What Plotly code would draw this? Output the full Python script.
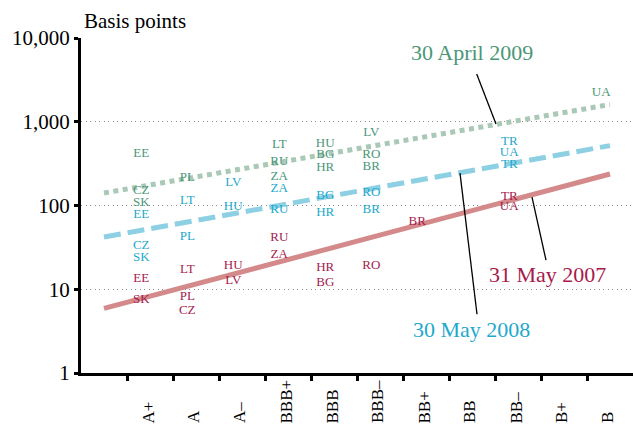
import plotly.graph_objects as go

# ---------------- data ----------------
ratings = ["A+", "A", "A–", "BBB+", "BBB", "BBB–", "BB+", "BB", "BB–", "B+", "B"]

# 30 April 2009
apr09_country = ["EE", "CZ", "SK", "PL", "LT", "RU", "ZA", "HU", "BG", "HR", "LV", "RO", "BR", "UA"]
apr09_rating = ["A+", "A+", "A+", "A", "BBB+", "BBB+", "BBB+", "BBB", "BBB", "BBB", "BBB–", "BBB–", "BBB–", "B"]
apr09_bp = [416, 150, 108, 215, 533, 334, 221, 548, 405, 283, 743, 405, 291, 2238]

# 30 May 2008
may08_country = ["EE", "CZ", "SK", "LT", "PL", "LV", "HU", "ZA", "RU", "BG", "HR", "RO", "BR", "TR", "UA", "TR"]
may08_rating = ["A+", "A+", "A+", "A", "A", "A–", "A–", "BBB+", "BBB+", "BBB", "BBB", "BBB–", "BBB–", "BB–", "BB–", "BB–"]
may08_bp = [77, 33, 24, 114, 42, 187, 96, 158, 89, 131, 82, 142, 89, 579, 428, 307]

# 31 May 2007
may07_country = ["EE", "SK", "LT", "PL", "CZ", "HU", "LV", "RU", "ZA", "HR", "BG", "RO", "BR", "TR", "UA"]
may07_rating = ["A+", "A+", "A", "A", "A", "A–", "A–", "BBB+", "BBB+", "BBB", "BBB", "BBB–", "BB+", "BB–", "BB–"]
may07_bp = [13.3, 7.4, 17, 8.1, 5.6, 19, 12.5, 41, 26, 18, 11.9, 19, 64, 127, 96]

# fitted lines: values at rating index -1 and 10 (B)
fit_index = [-1, 10]
fit_apr09 = [141, 1607]
fit_may08 = [42, 519]
fit_may07 = [5.9, 238]

# ---------------- style ----------------
FONT = "Liberation Serif"
GREEN_T, GREEN_L = "#4b9677", "#a9c8b6"
CYAN_T, CYAN_L = "#1ea9cc", "#8ed0e3"
RED_T, RED_L = "#a61a4b", "#d48a8b"

W, H = 633, 428
L, R, T, B = 81, 0, 38, 55.3
pw, ph = W - L - R, H - T - B


def xpos(idx):
    return idx + 1.5  # slot 0 is an unlabeled slot


def rx(r):
    return xpos(ratings.index(r))


label_dx = -0.19

fig = go.Figure()

for fx, fy, col, dash in [
    (fit_index, fit_apr09, GREEN_L, "5px,4.5px"),
    (fit_index, fit_may08, CYAN_L, "17px,7px"),
    (fit_index, fit_may07, RED_L, "solid"),
]:
    fig.add_trace(go.Scatter(
        x=[xpos(i) for i in fx], y=fy, mode="lines",
        line=dict(color=col, width=5, dash=dash),
        hoverinfo="skip", showlegend=False))

for cs, rs, vs, col in [
    (apr09_country, apr09_rating, apr09_bp, GREEN_T),
    (may08_country, may08_rating, may08_bp, CYAN_T),
    (may07_country, may07_rating, may07_bp, RED_T),
]:
    fig.add_trace(go.Scatter(
        x=[rx(r) + label_dx for r in rs], y=vs, text=cs, mode="text",
        textposition="middle center",
        textfont=dict(family=FONT, size=13, color=col),
        showlegend=False, hoverinfo="skip"))


def px2paper(x, y):
    return (x - L) / pw, (H - B - y) / ph


annotations = []
# rotated category labels
for i, r in enumerate(ratings):
    annotations.append(dict(
        x=xpos(i) - 0.04, xref="x", y=(H - B - 425) / ph, yref="paper",
        text=r, showarrow=False, textangle=-90,
        xanchor="center", yanchor="bottom",
        font=dict(family=FONT, size=17, color="black")))

annotations.append(dict(
    x=px2paper(82, 0)[0], y=px2paper(0, 21)[1], xref="paper", yref="paper",
    text="Basis points", showarrow=False, xanchor="left", yanchor="middle",
    font=dict(family=FONT, size=21, color="black")))

for txt, cx, cy, col in [
    ("30 April 2009", 472, 52, GREEN_T),
    ("30 May 2008", 471, 329, CYAN_T),
    ("31 May 2007", 547, 274, RED_T),
]:
    ax_, ay_ = px2paper(cx, cy)
    annotations.append(dict(
        x=ax_, y=ay_, xref="paper", yref="paper", text=txt, showarrow=False,
        xanchor="center", yanchor="middle",
        font=dict(family=FONT, size=22, color=col)))

shapes = []
for (x0, y0, x1, y1) in [(476.7, 74, 496, 124), (460, 173, 477, 314), (532, 197, 546, 260)]:
    a0, b0 = px2paper(x0, y0)
    a1, b1 = px2paper(x1, y1)
    shapes.append(dict(type="line", xref="paper", yref="paper",
                       x0=a0, y0=b0, x1=a1, y1=b1,
                       line=dict(color="black", width=1.3)))

fig.update_layout(
    width=W, height=H,
    margin=dict(l=L, r=R, t=T, b=B),
    paper_bgcolor="white", plot_bgcolor="white",
    annotations=annotations, shapes=shapes,
    xaxis=dict(
        range=[0, 12], showgrid=False, zeroline=False,
        showline=True, linecolor="black", linewidth=3,
        tickmode="array", tickvals=list(range(1, 12)), ticktext=[""] * 11,
        ticks="outside", ticklen=5, tickwidth=3, tickcolor="black",
        fixedrange=True),
    yaxis=dict(
        type="log", range=[0, 4], showgrid=True,
        gridcolor="#8c8c8c", gridwidth=1, griddash="1px,3.5px",
        showline=True, linecolor="black", linewidth=3, zeroline=False,
        tickmode="array", tickvals=[1, 10, 100, 1000, 10000],
        ticktext=["1", "10", "100", "1,000", "10,000"],
        ticks="outside", ticklen=4, tickwidth=3, tickcolor="black",
        tickfont=dict(family=FONT, size=21, color="black"),
        fixedrange=True),
    font=dict(family=FONT),
)

fig.write_html("out.html", config={"displayModeBar": False},
               post_script="document.body.style.margin='0';document.body.style.overflow='hidden';")
